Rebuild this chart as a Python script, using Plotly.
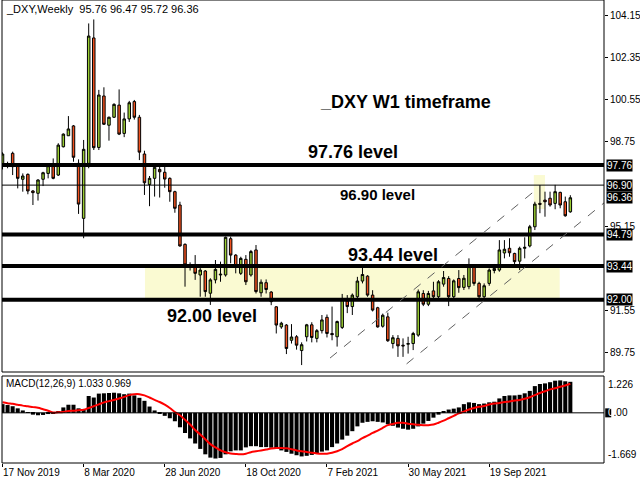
import plotly.graph_objects as go
import pandas as pd

# ---------------- data ----------------
first_week = "2019-11-17"
n_bars = 113
dates = pd.date_range(first_week, periods=n_bars, freq="7D")

opens = [97.80, 97.78, 98.26, 97.73, 97.15, 97.36, 96.65, 96.55, 97.15, 97.40,
         97.76, 97.33, 98.54, 99.01, 99.43, 97.83, 95.48, 97.83, 103.19, 98.51,
         100.71, 99.46, 99.80, 100.32, 99.11, 99.73, 100.47, 99.80, 98.23, 96.93,
         97.19, 97.57, 97.45, 97.19, 96.62, 96.05, 94.37, 93.38, 93.41, 93.06,
         93.23, 92.28, 92.85, 93.06, 93.06, 94.61, 93.91, 93.13, 93.73, 93.06,
         94.13, 92.30, 92.73, 92.33, 91.70, 90.84, 90.92, 90.27, 90.42, 89.83,
         90.42, 90.93, 90.35, 90.68, 91.25, 90.56, 90.42, 90.82, 91.95, 91.71,
         92.13, 92.80, 93.01, 92.20, 91.66, 90.87, 91.27, 90.13, 90.35, 90.06,
         90.10, 90.13, 90.49, 92.27, 91.81, 92.38, 92.13, 92.67, 92.91, 92.13,
         92.91, 92.53, 92.56, 93.42, 92.70, 92.13, 92.70, 93.25, 93.27, 94.00,
         94.20, 93.98, 93.65, 94.20, 94.30, 95.12, 96.12, 96.26, 96.34, 96.12,
         96.59, 96.19, 95.76]
highs = [98.30, 97.90, 98.33, 97.80, 97.40, 97.40, 96.69, 97.15, 97.47, 97.80,
         98.04, 98.69, 99.11, 99.85, 99.47, 98.00, 98.83, 103.81, 103.98, 100.97,
         101.08, 99.83, 100.40, 100.99, 100.00, 100.50, 100.54, 99.90, 98.37, 97.29,
         97.75, 97.72, 97.75, 97.23, 96.66, 96.19, 94.41, 93.60, 93.91, 93.37,
         93.27, 92.92, 93.70, 93.63, 94.70, 94.70, 93.95, 93.84, 93.91, 94.13,
         94.34, 92.87, 92.87, 92.37, 91.73, 91.06, 90.96, 90.96, 90.49, 90.18,
         90.97, 91.04, 90.75, 91.35, 91.37, 91.71, 91.11, 92.25, 92.20, 92.27,
         92.98, 93.41, 93.05, 92.41, 91.70, 91.41, 91.45, 90.49, 90.49, 90.35,
         90.42, 90.63, 92.44, 92.41, 92.38, 92.77, 92.84, 93.23, 93.01, 92.87,
         93.27, 93.06, 93.77, 93.50, 92.77, 92.70, 93.34, 93.53, 94.55, 94.55,
         94.63, 94.01, 94.27, 94.67, 95.20, 96.19, 96.90, 96.62, 96.62, 96.91,
         96.62, 96.41, 96.47]
lows = [97.57, 97.62, 97.33, 96.76, 96.62, 96.51, 96.05, 96.24, 96.86, 97.19,
        97.15, 97.29, 98.51, 99.00, 97.90, 95.67, 94.63, 97.62, 98.40, 98.40,
        99.47, 98.80, 99.77, 99.04, 98.95, 99.60, 99.70, 97.97, 96.48, 96.00,
        96.41, 96.37, 96.79, 96.19, 95.72, 94.27, 92.56, 93.25, 92.85, 92.13,
        92.13, 91.78, 92.70, 92.77, 92.99, 93.56, 93.13, 93.06, 92.63, 92.99,
        92.27, 92.13, 92.27, 91.77, 90.56, 90.76, 89.68, 90.13, 89.87, 89.21,
        90.22, 90.18, 90.18, 90.56, 90.39, 90.27, 90.00, 90.75, 91.43, 91.35,
        92.06, 92.70, 92.13, 91.50, 90.81, 90.81, 90.20, 89.92, 89.56, 89.56,
        89.70, 89.85, 90.42, 91.73, 91.73, 92.01, 92.06, 92.56, 91.73, 91.98,
        92.30, 92.42, 92.45, 92.60, 92.06, 92.00, 92.60, 93.13, 93.20, 93.77,
        93.84, 93.49, 93.27, 93.77, 94.24, 94.98, 95.70, 95.55, 95.98, 95.87,
        95.91, 95.55, 95.72]
closes = [98.23, 97.74, 97.69, 97.19, 97.29, 96.65, 96.58, 97.12, 97.43, 97.73,
          97.19, 98.61, 99.08, 99.30, 98.09, 96.09, 98.43, 103.27, 98.50, 100.75,
          99.50, 99.80, 100.35, 99.08, 99.73, 100.42, 99.80, 98.31, 97.00, 97.19,
          97.66, 97.47, 97.16, 96.62, 95.91, 94.30, 93.49, 93.45, 93.13, 93.27,
          92.35, 92.85, 93.30, 93.09, 94.67, 93.91, 93.44, 93.77, 92.77, 94.06,
          92.35, 92.75, 92.44, 91.92, 90.92, 91.00, 89.92, 90.41, 90.06, 90.08,
          90.93, 90.39, 90.68, 91.14, 90.56, 90.51, 91.07, 92.05, 91.71, 92.20,
          92.80, 93.08, 92.20, 91.56, 90.84, 91.34, 90.25, 90.38, 90.03, 90.03,
          90.13, 90.56, 92.34, 91.81, 92.27, 92.13, 92.77, 92.95, 92.13, 92.81,
          92.52, 92.92, 93.42, 92.70, 92.13, 92.60, 93.27, 93.34, 94.13, 94.16,
          94.01, 93.63, 94.20, 94.24, 95.12, 96.09, 96.08, 96.19, 96.05, 96.62,
          96.05, 95.59, 96.36]

macd_main = [0.29, 0.26, 0.22, 0.15, 0.08, 0.02, -0.06, -0.08, -0.07, -0.04,
             -0.01, 0.05, 0.18, 0.27, 0.27, 0.15, 0.11, 0.56, 0.51, 0.64,
             0.65, 0.66, 0.67, 0.65, 0.62, 0.64, 0.58, 0.50, 0.40, 0.21,
             0.08, -0.03, -0.10, -0.18, -0.28, -0.48, -0.67, -0.85, -1.02, -1.20,
             -1.38, -1.49, -1.52, -1.50, -1.38, -1.28, -1.25, -1.25, -1.15, -1.11,
             -1.11, -1.14, -1.14, -1.16, -1.19, -1.25, -1.30, -1.36, -1.41, -1.45,
             -1.43, -1.40, -1.36, -1.29, -1.25, -1.14, -1.02, -0.89, -0.76, -0.61,
             -0.45, -0.33, -0.30, -0.28, -0.30, -0.32, -0.38, -0.43, -0.49, -0.53,
             -0.56, -0.53, -0.45, -0.36, -0.27, -0.16, -0.06, 0.03, 0.11, 0.14,
             0.18, 0.29, 0.35, 0.33, 0.29, 0.31, 0.35, 0.37, 0.48, 0.56,
             0.58, 0.58, 0.60, 0.65, 0.73, 0.89, 0.96, 0.98, 1.02, 1.07,
             1.08, 1.05, 1.033]
macd_signal = [0.35, 0.32, 0.30, 0.27, 0.24, 0.22, 0.19, 0.17, 0.12, 0.07,
               0.01, 0.02, 0.03, 0.06, 0.07, 0.09, 0.10, 0.16, 0.22, 0.28,
               0.35, 0.39, 0.43, 0.48, 0.53, 0.59, 0.62, 0.62, 0.58, 0.51,
               0.43, 0.36, 0.27, 0.16, 0.03, -0.08, -0.23, -0.39, -0.57, -0.72,
               -0.88, -1.04, -1.15, -1.25, -1.31, -1.35, -1.37, -1.38, -1.36, -1.31,
               -1.28, -1.25, -1.22, -1.19, -1.17, -1.17, -1.18, -1.21, -1.25, -1.28,
               -1.30, -1.33, -1.35, -1.36, -1.36, -1.33, -1.28, -1.21, -1.11, -1.02,
               -0.94, -0.84, -0.76, -0.67, -0.59, -0.50, -0.41, -0.37, -0.33, -0.33,
               -0.36, -0.38, -0.40, -0.41, -0.41, -0.39, -0.33, -0.26, -0.18, -0.10,
               -0.02, 0.04, 0.11, 0.16, 0.20, 0.23, 0.28, 0.31, 0.33, 0.36,
               0.38, 0.41, 0.43, 0.47, 0.52, 0.59, 0.66, 0.72, 0.78, 0.82,
               0.87, 0.91, 0.969]

thick_levels = [97.76, 94.79, 93.44, 92.00]
thin_level = 96.90
boxed_prices = ["97.76", "96.90", "96.36", "94.79", "93.44", "92.00"]
price_ticks = [104.15, 102.35, 100.55, 98.75, 95.15, 91.55, 89.75]
date_ticks = ["2019-11-17", "2020-03-08", "2020-06-28", "2020-10-18", "2021-02-07", "2021-05-30", "2021-09-19"]
date_labels = ["17 Nov 2019", "8 Mar 2020", "28 Jun 2020", "18 Oct 2020", "7 Feb 2021", "30 May 2021", "19 Sep 2021"]
macd_top, macd_bottom = 1.226, -1.669

# ---------------- geometry helpers ----------------
W, H = 640, 480
ML, MR, MT, MB = 2, 36, 0, 17
PW, PH = W - ML - MR, H - MT - MB
t0 = pd.Timestamp(first_week)


def wk(i):
    return t0 + pd.Timedelta(days=7 * i)


def px_y(p):
    return 1 - (p - MT) / PH


def px_x(p):
    return (p - ML) / PW


GREEN = "#9ACD32"
RED = "#F0501E"

fig = go.Figure()

fig.add_trace(go.Candlestick(
    x=dates, open=opens, high=highs, low=lows, close=closes,
    increasing=dict(fillcolor=GREEN, line=dict(color="#000000", width=1)),
    decreasing=dict(fillcolor=RED, line=dict(color="#000000", width=1)),
    whiskerwidth=0, xaxis="x", yaxis="y", showlegend=False,
))

fig.add_trace(go.Bar(x=dates, y=macd_main, marker=dict(color="#000000", line=dict(width=0)),
                     xaxis="x", yaxis="y2", showlegend=False))
fig.add_trace(go.Scatter(x=dates, y=macd_signal, mode="lines", line=dict(color="#FF0000", width=2, shape="spline"),
                         xaxis="x", yaxis="y2", showlegend=False))

shapes = []
# yellow zones
shapes.append(dict(type="rect", xref="x", yref="y", x0=wk(28.1), x1=wk(109.9), y0=92.00, y1=93.44,
                   fillcolor="#FAFAD2", line=dict(width=0), layer="below"))
shapes.append(dict(type="rect", xref="x", yref="y", x0=wk(104.8), x1=wk(107.0), y0=95.88, y1=97.33,
                   fillcolor="#FAFAD2", line=dict(width=0), layer="below"))
# levels
for lv in thick_levels:
    shapes.append(dict(type="line", xref="x domain", yref="y", x0=0, x1=1, y0=lv, y1=lv,
                       line=dict(color="#000000", width=4)))
shapes.append(dict(type="line", xref="x domain", yref="y", x0=0, x1=1, y0=thin_level, y1=thin_level,
                   line=dict(color="#000000", width=1)))
# channel lines
shapes.append(dict(type="line", xref="x", yref="y", x0=wk(64.6), y0=89.51, x1=wk(105.4), y1=96.73,
                   line=dict(color="#606060", width=1, dash="dash")))
shapes.append(dict(type="line", xref="x", yref="y", x0=wk(79.7), y0=89.26, x1=wk(118.64), y1=96.14,
                   line=dict(color="#606060", width=1, dash="dash")))
# macd zero line
shapes.append(dict(type="line", xref="x domain", yref="y2", x0=0, x1=1, y0=0, y1=0,
                   line=dict(color="#000000", width=1)))
# pane borders
for yr in ["y domain", "y2 domain"]:
    shapes.append(dict(type="rect", xref="x domain", yref=yr, x0=0, x1=1, y0=0, y1=1,
                       line=dict(color="#000000", width=1), fillcolor="rgba(0,0,0,0)"))
# small box behind 0.00
shapes.append(dict(type="rect", xref="paper", yref="y2", x0=1.002, x1=1.012, y0=-0.15, y1=0.15,
                   fillcolor="#000000", line=dict(width=0)))

ann = []
BF = "Liberation Sans"
for t in boxed_prices:
    ann.append(dict(xref="paper", yref="y", x=1, y=float(t), xanchor="left", yanchor="middle", xshift=2,
                    text=t, showarrow=False, bgcolor="#000000", borderpad=0,
                    font=dict(color="#FFFFFF", size=10, family=BF)))


def big(text, i, price, size):
    ann.append(dict(xref="x", yref="y", x=wk(i), y=price, xanchor="left", yanchor="middle",
                    text="<b>" + text + "</b>", showarrow=False,
                    font=dict(color="#000000", size=size, family=BF)))


big("_DXY W1 timeframe", 62.3, 100.45, 18)
big("97.76 level", 59.9, 98.32, 18)
big("96.90 level", 66.2, 96.48, 15)
big("93.44 level", 67.8, 93.91, 18)
big("92.00 level", 32.1, 91.31, 18)

ann.append(dict(xref="paper", yref="paper", x=px_x(4), y=px_y(9), xanchor="left", yanchor="middle",
                text="_DXY,Weekly  95.76 96.47 95.72 96.36", showarrow=False,
                font=dict(color="#000000", size=11, family=BF)))
ann.append(dict(xref="paper", yref="paper", x=px_x(4), y=px_y(383), xanchor="left", yanchor="middle",
                text="MACD(12,26,9) 1.033 0.969", showarrow=False,
                font=dict(color="#000000", size=10, family=BF)))
ann.append(dict(xref="paper", yref="y2 domain", x=1, y=1, xanchor="left", yanchor="top", xshift=2, yshift=-1,
                text="1.226", showarrow=False, font=dict(color="#000000", size=10, family=BF)))
ann.append(dict(xref="paper", yref="y2 domain", x=1, y=0, xanchor="left", yanchor="bottom", xshift=2, yshift=1,
                text="-1.669", showarrow=False, font=dict(color="#000000", size=10, family=BF)))
ann.append(dict(xref="paper", yref="y2", x=1, y=0, xanchor="left", yanchor="middle", xshift=2,
                text='<span style="color:#FFFFFF">0</span>.00', showarrow=False,
                font=dict(color="#000000", size=10, family=BF)))

main_top = 0
main_bot = 372
macd_top_px = 376
price_per_px = 1 / 23.4
y_hi = 97.76 + (165 - main_top) * price_per_px
y_lo = 97.76 - (main_bot - 165) * price_per_px

fig.update_layout(
    width=W, height=H, margin=dict(l=ML, r=MR, t=MT, b=MB),
    paper_bgcolor="#FFFFFF", plot_bgcolor="#FFFFFF",
    showlegend=False, bargap=0.2,
    font=dict(family=BF, color="#000000", size=10),
    xaxis=dict(type="date", range=[wk(-0.1), wk(118.64)], anchor="y2",
               rangeslider=dict(visible=False), showgrid=False, zeroline=False,
               tickvals=date_ticks, ticktext=date_labels,
               ticklabelposition="outside right", ticks="outside", ticklen=3, tickcolor="#000000",
               tickfont=dict(size=10, family=BF, color="#000000"), showline=False),
    yaxis=dict(domain=[px_y(main_bot), 1], range=[y_lo, y_hi], side="right", anchor="x",
               showgrid=False, zeroline=False, tickvals=price_ticks,
               ticktext=[f"{v:.2f}" for v in price_ticks],
               ticks="outside", ticklen=3, tickcolor="#000000",
               tickfont=dict(size=10, family=BF, color="#000000")),
    yaxis2=dict(domain=[0, px_y(macd_top_px)], range=[macd_bottom, macd_top], side="right", anchor="x",
                showgrid=False, zeroline=False, showticklabels=False, ticks=""),
    shapes=shapes, annotations=ann,
)

fig.write_html("out.html", config={"displayModeBar": False},
               post_script="document.body.style.margin='0px';document.body.style.padding='0px';")
